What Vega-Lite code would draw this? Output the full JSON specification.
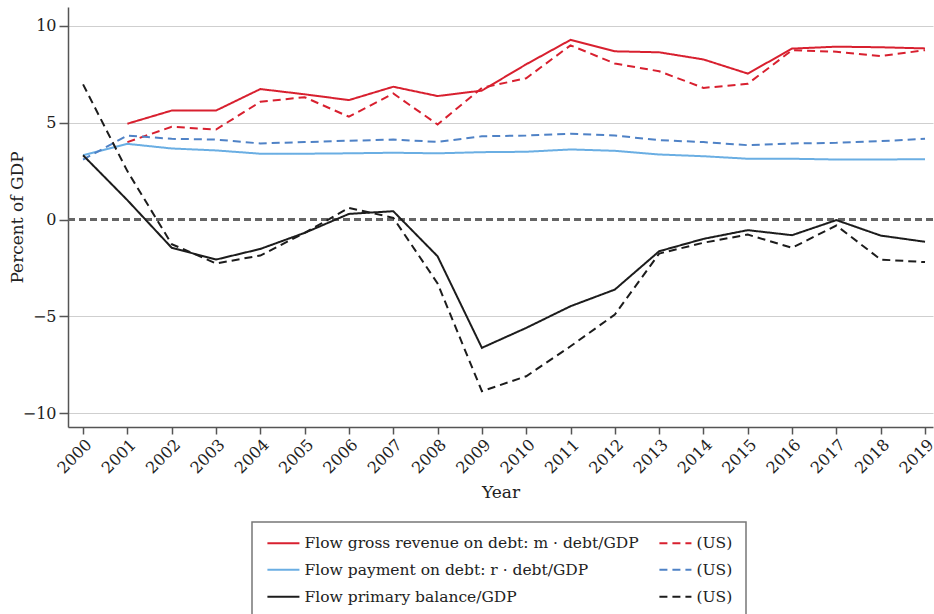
{
  "$schema": "https://vega.github.io/schema/vega-lite/v6.json",
  "width": 865,
  "height": 420,
  "autosize": {"type": "none"},
  "padding": {"left": 68, "top": 7, "right": 1, "bottom": 187},
  "background": "white",
  "config": {
    "view": {"stroke": null},
    "font": "DejaVu Serif",
    "axis": {
      "domainColor": "#555",
      "domainWidth": 1.5,
      "tickColor": "#555",
      "tickWidth": 1.5,
      "labelFont": "DejaVu Serif",
      "labelColor": "#222",
      "labelFontSize": 16,
      "titleFont": "DejaVu Serif",
      "titleColor": "#222",
      "titleFontSize": 17,
      "titleFontWeight": "normal"
    },
    "legend": {"strokeWidth": 1.5}
  },
  "data": {
    "values": [
      {"year": 2001, "series": "g", "value": 4.95},
      {"year": 2002, "series": "g", "value": 5.63},
      {"year": 2003, "series": "g", "value": 5.63},
      {"year": 2004, "series": "g", "value": 6.74},
      {"year": 2005, "series": "g", "value": 6.47},
      {"year": 2006, "series": "g", "value": 6.17},
      {"year": 2007, "series": "g", "value": 6.86},
      {"year": 2008, "series": "g", "value": 6.38},
      {"year": 2009, "series": "g", "value": 6.66},
      {"year": 2010, "series": "g", "value": 8.02},
      {"year": 2011, "series": "g", "value": 9.28},
      {"year": 2012, "series": "g", "value": 8.69},
      {"year": 2013, "series": "g", "value": 8.64},
      {"year": 2014, "series": "g", "value": 8.27},
      {"year": 2015, "series": "g", "value": 7.54},
      {"year": 2016, "series": "g", "value": 8.83},
      {"year": 2017, "series": "g", "value": 8.93},
      {"year": 2018, "series": "g", "value": 8.9},
      {"year": 2019, "series": "g", "value": 8.84},
      {"year": 2001, "series": "gUS", "value": 4.0},
      {"year": 2002, "series": "gUS", "value": 4.79},
      {"year": 2003, "series": "gUS", "value": 4.65},
      {"year": 2004, "series": "gUS", "value": 6.08},
      {"year": 2005, "series": "gUS", "value": 6.32},
      {"year": 2006, "series": "gUS", "value": 5.31},
      {"year": 2007, "series": "gUS", "value": 6.51},
      {"year": 2008, "series": "gUS", "value": 4.91},
      {"year": 2009, "series": "gUS", "value": 6.8},
      {"year": 2010, "series": "gUS", "value": 7.3},
      {"year": 2011, "series": "gUS", "value": 9.0},
      {"year": 2012, "series": "gUS", "value": 8.06},
      {"year": 2013, "series": "gUS", "value": 7.66},
      {"year": 2014, "series": "gUS", "value": 6.8},
      {"year": 2015, "series": "gUS", "value": 7.01},
      {"year": 2016, "series": "gUS", "value": 8.75},
      {"year": 2017, "series": "gUS", "value": 8.67},
      {"year": 2018, "series": "gUS", "value": 8.44},
      {"year": 2019, "series": "gUS", "value": 8.75},
      {"year": 2000, "series": "p", "value": 3.32},
      {"year": 2001, "series": "p", "value": 3.91},
      {"year": 2002, "series": "p", "value": 3.67},
      {"year": 2003, "series": "p", "value": 3.57},
      {"year": 2004, "series": "p", "value": 3.4},
      {"year": 2005, "series": "p", "value": 3.4},
      {"year": 2006, "series": "p", "value": 3.42},
      {"year": 2007, "series": "p", "value": 3.45},
      {"year": 2008, "series": "p", "value": 3.42},
      {"year": 2009, "series": "p", "value": 3.48},
      {"year": 2010, "series": "p", "value": 3.5},
      {"year": 2011, "series": "p", "value": 3.62},
      {"year": 2012, "series": "p", "value": 3.55},
      {"year": 2013, "series": "p", "value": 3.36},
      {"year": 2014, "series": "p", "value": 3.27},
      {"year": 2015, "series": "p", "value": 3.14},
      {"year": 2016, "series": "p", "value": 3.14},
      {"year": 2017, "series": "p", "value": 3.1},
      {"year": 2018, "series": "p", "value": 3.1},
      {"year": 2019, "series": "p", "value": 3.12},
      {"year": 2000, "series": "pUS", "value": 3.1},
      {"year": 2001, "series": "pUS", "value": 4.34},
      {"year": 2002, "series": "pUS", "value": 4.17},
      {"year": 2003, "series": "pUS", "value": 4.13},
      {"year": 2004, "series": "pUS", "value": 3.93},
      {"year": 2005, "series": "pUS", "value": 4.0},
      {"year": 2006, "series": "pUS", "value": 4.07},
      {"year": 2007, "series": "pUS", "value": 4.13},
      {"year": 2008, "series": "pUS", "value": 4.01},
      {"year": 2009, "series": "pUS", "value": 4.3},
      {"year": 2010, "series": "pUS", "value": 4.34},
      {"year": 2011, "series": "pUS", "value": 4.43},
      {"year": 2012, "series": "pUS", "value": 4.34},
      {"year": 2013, "series": "pUS", "value": 4.1},
      {"year": 2014, "series": "pUS", "value": 4.0},
      {"year": 2015, "series": "pUS", "value": 3.84},
      {"year": 2016, "series": "pUS", "value": 3.93},
      {"year": 2017, "series": "pUS", "value": 3.96},
      {"year": 2018, "series": "pUS", "value": 4.05},
      {"year": 2019, "series": "pUS", "value": 4.17},
      {"year": 2000, "series": "b", "value": 3.32},
      {"year": 2001, "series": "b", "value": 1.0},
      {"year": 2002, "series": "b", "value": -1.46},
      {"year": 2003, "series": "b", "value": -2.07},
      {"year": 2004, "series": "b", "value": -1.52},
      {"year": 2005, "series": "b", "value": -0.69},
      {"year": 2006, "series": "b", "value": 0.29},
      {"year": 2007, "series": "b", "value": 0.43},
      {"year": 2008, "series": "b", "value": -1.9},
      {"year": 2009, "series": "b", "value": -6.63},
      {"year": 2010, "series": "b", "value": -5.6},
      {"year": 2011, "series": "b", "value": -4.48},
      {"year": 2012, "series": "b", "value": -3.62},
      {"year": 2013, "series": "b", "value": -1.64},
      {"year": 2014, "series": "b", "value": -1.0},
      {"year": 2015, "series": "b", "value": -0.55},
      {"year": 2016, "series": "b", "value": -0.81},
      {"year": 2017, "series": "b", "value": -0.03},
      {"year": 2018, "series": "b", "value": -0.83},
      {"year": 2019, "series": "b", "value": -1.15},
      {"year": 2000, "series": "bUS", "value": 6.98},
      {"year": 2001, "series": "bUS", "value": 2.5},
      {"year": 2002, "series": "bUS", "value": -1.27},
      {"year": 2003, "series": "bUS", "value": -2.27},
      {"year": 2004, "series": "bUS", "value": -1.86},
      {"year": 2005, "series": "bUS", "value": -0.69},
      {"year": 2006, "series": "bUS", "value": 0.6},
      {"year": 2007, "series": "bUS", "value": 0.09},
      {"year": 2008, "series": "bUS", "value": -3.3},
      {"year": 2009, "series": "bUS", "value": -8.87},
      {"year": 2010, "series": "bUS", "value": -8.1},
      {"year": 2011, "series": "bUS", "value": -6.55},
      {"year": 2012, "series": "bUS", "value": -4.91},
      {"year": 2013, "series": "bUS", "value": -1.76},
      {"year": 2014, "series": "bUS", "value": -1.2},
      {"year": 2015, "series": "bUS", "value": -0.78},
      {"year": 2016, "series": "bUS", "value": -1.46},
      {"year": 2017, "series": "bUS", "value": -0.31},
      {"year": 2018, "series": "bUS", "value": -2.07},
      {"year": 2019, "series": "bUS", "value": -2.2}
    ]
  },
  "layer": [
    {
      "mark": {"type": "rule", "color": "#666", "strokeDash": [7, 4], "strokeWidth": 1.5},
      "encoding": {
        "y": {
          "datum": 0,
          "type": "quantitative",
          "scale": {"domain": [-10.72, 10.98], "nice": false, "zero": false},
          "axis": {
            "title": "Percent of GDP",
            "values": [-10, -5, 0, 5, 10],
            "format": "d",
            "tickSize": 9,
            "labelPadding": 3,
            "titlePadding": -4,
            "grid": true,
            "gridColor": {"condition": {"test": "datum.value === 0", "value": "transparent"}, "value": "#cfcfcf"},
            "gridWidth": 1
          }
        }
      }
    },
    {
      "mark": {"type": "line", "strokeWidth": 2},
      "encoding": {
        "x": {
          "field": "year",
          "type": "quantitative",
          "scale": {"domain": [1999.66, 2019.18], "nice": false, "zero": false},
          "axis": {
            "title": "Year",
            "values": [2000, 2001, 2002, 2003, 2004, 2005, 2006, 2007, 2008, 2009, 2010, 2011, 2012, 2013, 2014, 2015, 2016, 2017, 2018, 2019],
            "format": "d",
            "labelAngle": -45,
            "labelAlign": "right",
            "labelBaseline": "top",
            "labelPadding": 2,
            "tickSize": 7,
            "grid": false,
            "titlePadding": 8
          }
        },
        "y": {
          "field": "value",
          "type": "quantitative",
          "scale": {"domain": [-10.72, 10.98], "nice": false, "zero": false},
          "axis": {
            "title": "Percent of GDP",
            "values": [-10, -5, 0, 5, 10],
            "format": "d",
            "tickSize": 9,
            "labelPadding": 3,
            "titlePadding": -4,
            "grid": true,
            "gridColor": {"condition": {"test": "datum.value === 0", "value": "transparent"}, "value": "#cfcfcf"},
            "gridWidth": 1
          }
        },
        "color": {
          "field": "series",
          "type": "nominal",
          "scale": {
            "domain": ["g", "p", "b", "gUS", "pUS", "bUS"],
            "range": ["#d8202f", "#6aaee3", "#1c1c1c", "#d8202f", "#4f82c6", "#1c1c1c"]
          },
          "legend": {
            "title": null,
            "orient": "none",
            "legendX": 184,
            "legendY": 515,
            "columns": 2,
            "columnPadding": 16,
            "rowPadding": 10,
            "padding": 13,
            "strokeColor": "#777",
            "fillColor": "white",
            "symbolType": "M-1,0H5",
            "symbolSize": 114,
            "symbolStrokeWidth": 2,
            "labelFont": "DejaVu Serif",
            "labelFontSize": 15.5,
            "labelColor": "#222",
            "labelLimit": 600,
            "labelOffset": 24,
            "labelExpr": "datum.value == 'g' ? 'Flow gross revenue on debt: m · debt/GDP' : datum.value == 'p' ? 'Flow payment on debt: r · debt/GDP' : datum.value == 'b' ? 'Flow primary balance/GDP' : '(US)'"
          }
        },
        "strokeDash": {
          "field": "series",
          "type": "nominal",
          "scale": {
            "domain": ["g", "p", "b", "gUS", "pUS", "bUS"],
            "range": [[1, 0], [1, 0], [1, 0], [8, 5], [8, 5], [8, 5]]
          },
          "legend": {
            "title": null,
            "orient": "none",
            "legendX": 184,
            "legendY": 515,
            "columns": 2,
            "columnPadding": 16,
            "rowPadding": 10,
            "padding": 13,
            "strokeColor": "#777",
            "fillColor": "white",
            "symbolType": "M-1,0H5",
            "symbolSize": 114,
            "symbolStrokeWidth": 2,
            "labelFont": "DejaVu Serif",
            "labelFontSize": 15.5,
            "labelColor": "#222",
            "labelLimit": 600,
            "labelOffset": 24,
            "labelExpr": "datum.value == 'g' ? 'Flow gross revenue on debt: m · debt/GDP' : datum.value == 'p' ? 'Flow payment on debt: r · debt/GDP' : datum.value == 'b' ? 'Flow primary balance/GDP' : '(US)'"
          }
        }
      }
    }
  ]
}
